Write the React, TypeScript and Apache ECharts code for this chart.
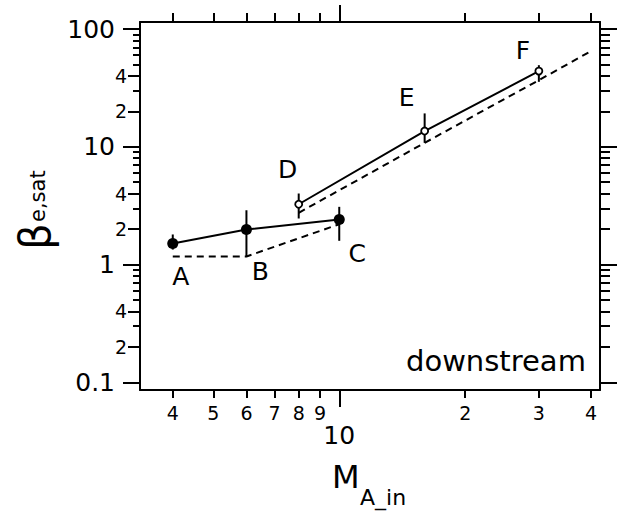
import React, { useEffect, useRef } from 'react';
import * as echarts from 'echarts';

// ---- axis ranges & ticks ----
const xRange = [3.34, 42];
const yRange = [0.086, 114.7];
const xMinorTicks = [4, 5, 6, 7, 8, 9, 20, 30, 40];
const xMajorTicks = [10];
const yMajorTicks = [0.1, 1, 10, 100];
const yLabeledMinor = [0.2, 0.4, 2, 4, 20, 40];
const yAllMinor = [0.2, 0.3, 0.4, 0.5, 0.6, 0.7, 0.8, 0.9, 2, 3, 4, 5, 6, 7, 8, 9, 20, 30, 40, 50, 60, 70, 80, 90];

// ---- data ----
const abcNames = ['A', 'B', 'C'];
const abcX = [4, 6, 10];
const abcY = [1.51, 1.98, 2.41];
const defNames = ['D', 'E', 'F'];
const defX = [8, 16, 30];
const defY = [3.25, 13.6, 43.9];
const abcDashX = [4, 6, 10];
const abcDashY = [1.17, 1.17, 2.2];
const defDashX = [8, 16, 30, 40];
const defDashY = [2.75, 10.8, 36.8, 65];
const errX = [4, 6, 10, 8, 16, 30];
const errLo = [1.34, 1.18, 1.59, 2.46, 10.8, 35.6];
const errHi = [1.8, 2.89, 3.09, 4.01, 19.2, 49.3];

const FONT = 'DejaVu Sans';
const abcLabelOffsets = [[8, 33], [14, 42], [18, 34]];
const defLabelOffsets = [[-11, -35], [-18, -34], [-16, -21]];

const firstDigit = (v: number) => {
  const e = Math.floor(Math.log10(v) + 1e-9);
  return String(Math.round(v / Math.pow(10, e)));
};
const majorFmt = (v: number) => (v < 1 ? '0.1' : String(Math.round(v)));

const lineStyleAxis = { color: '#000', width: 2 };

function makeX(position: string, opts: any) {
  return {
    type: 'log', logBase: 10, min: xRange[0], max: xRange[1], position,
    splitLine: { show: false },
    axisLine: { show: !!opts.line, lineStyle: lineStyleAxis },
    axisTick: { show: true, customValues: opts.ticks, length: opts.len, lineStyle: lineStyleAxis },
    axisLabel: opts.labels
      ? { show: true, customValues: opts.ticks, formatter: opts.fmt, fontSize: opts.fs, margin: opts.margin, color: '#000', fontFamily: FONT }
      : { show: false },
  };
}
function makeY(position: string, opts: any) {
  return {
    type: 'log', logBase: 10, min: yRange[0], max: yRange[1], position,
    splitLine: { show: false },
    axisLine: { show: !!opts.line, lineStyle: lineStyleAxis },
    axisTick: { show: true, customValues: opts.ticks, length: opts.len, lineStyle: lineStyleAxis },
    axisLabel: opts.labels
      ? { show: true, customValues: opts.ticks, formatter: opts.fmt, fontSize: opts.fs, margin: opts.margin, color: '#000', fontFamily: FONT }
      : { show: false },
  };
}

export default function App() {
  const ref = useRef<HTMLDivElement>(null);
  useEffect(() => {
    if (!ref.current) return;
    const chart = echarts.init(ref.current, null, { renderer: 'svg' });
    const option: any = {
      animation: false,
      backgroundColor: '#fff',
      textStyle: { fontFamily: FONT, color: '#000' },
      grid: { left: 140, top: 22, width: 460, height: 368, containLabel: false },
      xAxis: [
        makeX('bottom', { line: true, ticks: xMinorTicks, len: 8, labels: true, fmt: firstDigit, fs: 19, margin: 13 }),
        makeX('bottom', { ticks: xMajorTicks, len: 17, labels: true, fmt: majorFmt, fs: 25, margin: 33 }),
        makeX('top', { line: true, ticks: xMinorTicks, len: 9 }),
        makeX('top', { ticks: xMajorTicks, len: 17 }),
      ],
      yAxis: [
        makeY('left', { line: true, ticks: yAllMinor, len: 7 }),
        makeY('left', { ticks: yLabeledMinor, len: 12, labels: true, fmt: firstDigit, fs: 19, margin: 13 }),
        makeY('left', { ticks: yMajorTicks, len: 17, labels: true, fmt: majorFmt, fs: 25, margin: 25 }),
        makeY('right', { line: true, ticks: yAllMinor, len: 10 }),
        makeY('right', { ticks: yMajorTicks, len: 17 }),
      ],
      series: [
        {
          type: 'line', xAxisIndex: 0, yAxisIndex: 0, data: abcDashX.map((x, i) => [x, abcDashY[i]]),
          symbol: 'none', lineStyle: { color: '#000', width: 2, type: [7, 5] }, z: 2,
        },
        {
          type: 'line', xAxisIndex: 0, yAxisIndex: 0, data: defDashX.map((x, i) => [x, defDashY[i]]),
          symbol: 'none', lineStyle: { color: '#000', width: 2, type: [7, 5] }, z: 2,
        },
        {
          type: 'custom', xAxisIndex: 0, yAxisIndex: 0,
          data: errX.map((x, i) => [x, errLo[i], errHi[i]]),
          encode: { x: 0, y: [1, 2] },
          renderItem: (params: any, api: any) => {
            const lo = api.coord([api.value(0), api.value(1)]);
            const hi = api.coord([api.value(0), api.value(2)]);
            return {
              type: 'line',
              shape: { x1: lo[0], y1: lo[1], x2: hi[0], y2: hi[1] },
              style: { stroke: '#000', lineWidth: 2 },
            };
          },
          z: 3,
        },
        {
          type: 'line', xAxisIndex: 0, yAxisIndex: 0,
          data: abcX.map((x, i) => ({
            value: [x, abcY[i]], name: abcNames[i],
            label: { offset: abcLabelOffsets[i] },
          })),
          symbol: 'circle', symbolSize: 11,
          itemStyle: { color: '#000' },
          lineStyle: { color: '#000', width: 2 },
          label: { show: true, position: 'inside', formatter: '{b}', fontSize: 25, color: '#000', fontFamily: FONT },
          z: 4,
        },
        {
          type: 'line', xAxisIndex: 0, yAxisIndex: 0,
          data: defX.map((x, i) => ({
            value: [x, defY[i]], name: defNames[i],
            label: { offset: defLabelOffsets[i] },
          })),
          symbol: 'circle', symbolSize: 7, showAllSymbol: true,
          itemStyle: { color: '#fff', borderColor: '#000', borderWidth: 1.8 },
          lineStyle: { color: '#000', width: 2 },
          label: { show: true, position: 'inside', formatter: '{b}', fontSize: 25, color: '#000', fontFamily: FONT },
          z: 4,
        },
      ],
      graphic: [
        { type: 'text', x: 332, y: 477, style: { text: 'M', fontSize: 32, fontFamily: FONT, fill: '#000', align: 'left', verticalAlign: 'middle' } },
        { type: 'text', x: 360, y: 497, style: { text: 'A_in', fontSize: 22, fontFamily: FONT, fill: '#000', align: 'left', verticalAlign: 'middle' } },
        { type: 'text', x: 35, y: 250, rotation: Math.PI / 2, style: { text: 'β', fontSize: 42, fontFamily: FONT, fill: '#000', align: 'left', verticalAlign: 'middle' } },
        { type: 'text', x: 38, y: 222, rotation: Math.PI / 2, style: { text: 'e,sat', fontSize: 21, fontFamily: FONT, fill: '#000', align: 'left', verticalAlign: 'middle' } },
        { type: 'text', x: 406, y: 361, style: { text: 'downstream', fontSize: 29, fontFamily: FONT, fill: '#000', align: 'left', verticalAlign: 'middle' } },
      ],
    };
    chart.setOption(option);
    return () => chart.dispose();
  }, []);
  return <div ref={ref} style={{ position: 'fixed', left: 0, top: 0, width: 636, height: 519, background: '#fff' }} />;
}
